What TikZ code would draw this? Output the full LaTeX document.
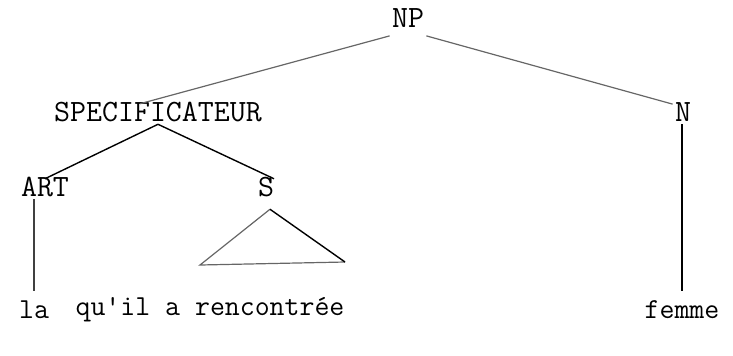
\documentclass[tikz,border=0pt]{standalone}
\usepackage{tikz}
\usetikzlibrary{positioning, calc}
\tikzset{
  cat/.style    = {font=\fontsize{15.5}{18}\selectfont\ttfamily,
                   inner sep=1pt, anchor=center},
  word/.style   = {font=\fontsize{14.5}{18}\selectfont\ttfamily,
                   inner sep=1pt, anchor=center},
  branch/.style = {draw=black, line width=0.7pt},
  faint/.style  = {draw=black!60, line width=0.6pt},
}

\begin{document}
\begin{tikzpicture}[x=0.5pt, y=-0.5pt]

% ────────────────────────────────────────────────────────────
%  Coordinates are in pixels of a 733 x 355 frame (y downward)
% ────────────────────────────────────────────────────────────
\useasboundingbox (0,0) rectangle (733,355);

% ── Category labels ─────────────────────────────────────────
\node[cat] (np)   at (408, 18)  {NP};
\node[cat] (spec) at (158, 112) {SPECIFICATEUR};
\node[cat] (n)    at (683, 112) {N};
\node[cat] (art)  at (45, 187)  {ART};
\node[cat] (s)    at (266, 187) {S};

% ── Terminal words ──────────────────────────────────────────
\node[word] (la)    at (34, 310)  {la};
\node[word] (rel)   at (210, 310) {qu'il a rencontrée};
\node[word] (femme) at (682, 310) {femme};

% ── Branches ────────────────────────────────────────────────
\draw[faint]  ([yshift=-3pt]np.south west) -- ([xshift=-9pt, yshift=-2pt]spec.north);
\draw[faint]  ([yshift=-3pt]np.south east) -- ([yshift=-2pt]n.north west);
\draw[branch] (spec.south) -- ([yshift=-2pt]art.north);
\draw[branch] (spec.south) -- ([xshift=4pt, yshift=-2pt]s.north);
\draw[branch, draw=black!75, shorten <=4pt] (la.north) -- (la.north |- art.south);
\draw[branch, shorten <=4pt] (femme.north) -- (femme.north |- n.south);

% ── Triangle under S ────────────────────────────────────────
\coordinate (tri-top)   at ([xshift=2pt, yshift=-5pt]s.south);
\coordinate (tri-left)  at (200, 265);
\coordinate (tri-right) at (345, 262);
\draw[faint]  (tri-top) -- (tri-left) -- (tri-right);
\draw[branch] (tri-right) -- (tri-top);

\end{tikzpicture}
\end{document}
